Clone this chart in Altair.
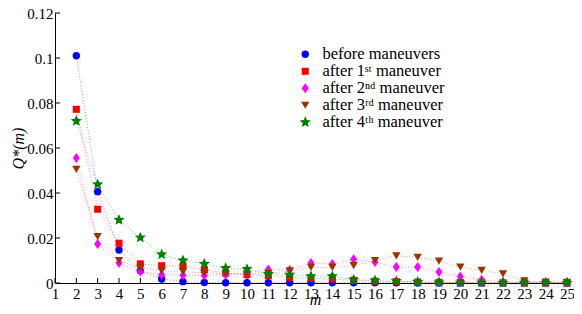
import altair as alt
import pandas as pd

m_values = list(range(2, 26))
before = [0.101, 0.0406, 0.0147, 0.0054, 0.0018, 0.0006, 0.0002, 0.0001, 0.0001, 0.0001, 0.0001, 0.0001,
          0.0001, 0.0001, 0.0001, 0.0001, 0.0, 0.0, 0.0, 0.0, 0.0, 0.0, 0.0, 0.0]
first = [0.0772, 0.0328, 0.0177, 0.0085, 0.0077, 0.0075, 0.0059, 0.0044, 0.0037, 0.0032, 0.0025, 0.0020,
         0.0018, 0.0012, 0.0008, 0.0006, 0.0004, 0.0003, 0.0002, 0.0002, 0.0001, 0.0001, 0.0001, 0.0001]
second = [0.0556, 0.0173, 0.0089, 0.0051, 0.0037, 0.0035, 0.0033, 0.0037, 0.0045, 0.0060, 0.0058, 0.0089,
          0.0085, 0.0106, 0.0093, 0.0071, 0.0071, 0.0049, 0.0029, 0.0015, 0.0005, 0.0002, 0.0001, 0.0001]
third = [0.0505, 0.0206, 0.0100, 0.0066, 0.0054, 0.0051, 0.0044, 0.0040, 0.0040, 0.0042, 0.0054, 0.0069,
         0.0069, 0.0077, 0.0100, 0.0121, 0.0114, 0.0097, 0.0071, 0.0056, 0.0041, 0.0010, 0.0004, 0.0003]
fourth = [0.0720, 0.0438, 0.0280, 0.0202, 0.0127, 0.0100, 0.0085, 0.0066, 0.0062, 0.0040, 0.0037, 0.0030,
          0.0030, 0.0015, 0.0011, 0.0008, 0.0005, 0.0003, 0.0002, 0.0002, 0.0001, 0.0001, 0.0001, 0.0001]

series_names = ["before maneuvers", "after 1ˢᵗ maneuver", "after 2ⁿᵈ maneuver",
                "after 3ʳᵈ maneuver", "after 4ᵗʰ maneuver"]
series_values = [before, first, second, third, fourth]
colors = ["#0000ff", "#ff0000", "#ff00ff", "#993300", "#008000"]
star = ("M0,-1 L0.265,-0.364 L0.951,-0.309 L0.428,0.139 L0.588,0.809 L0,0.45 "
        "L-0.588,0.809 L-0.428,0.139 L-0.951,-0.309 L-0.265,-0.364 Z")
diamond = "M0,-1 L0.7,0 L0,1 L-0.7,0 Z"
shapes = ["circle", "square", diamond, "triangle-down", star]
sizes = [55, 50, 100, 70, 140]

x_ticks = list(range(1, 26))
y_ticks = [0, 0.02, 0.04, 0.06, 0.08, 0.1, 0.12]

rows = []
for i, (name, vals) in enumerate(zip(series_names, series_values)):
    for m, v in zip(m_values, vals):
        rows.append({"series": name, "idx": i, "m": m, "Q": v})
df = pd.DataFrame(rows)

FONT = "Liberation Serif"

x_enc = alt.X("m:Q", scale=alt.Scale(domain=[1, 25], nice=False, zero=False),
              axis=alt.Axis(values=x_ticks, title="m",
                            titleBaseline="alphabetic", titleY=21, titleX=260,
                            titleAlign="center",
                            labelBaseline="alphabetic", labelPadding=15))
y_enc = alt.Y("Q:Q", scale=alt.Scale(domain=[0, 0.12], nice=False),
              axis=alt.Axis(values=y_ticks, format=".2~f", title="Q*(m)",
                            titleX=-37, titleY=135, titleAngle=-90, titleAlign="center",
                            titleBaseline="middle", labelPadding=2))

line_layers = []
for name, c in zip(series_names, colors):
    line_layers.append(
        alt.Chart(df).transform_filter(alt.datum.series == name)
        .mark_line(strokeDash=[1, 2], strokeWidth=1, opacity=0.45, color=c)
        .encode(x=x_enc, y=y_enc)
    )

points = alt.Chart(df).mark_point(filled=True, opacity=1).encode(
    x=x_enc, y=y_enc,
    color=alt.Color("series:N", scale=alt.Scale(domain=series_names, range=colors),
                    legend=alt.Legend(title=None, orient="none", legendX=242, legendY=33)),
    shape=alt.Shape("series:N", scale=alt.Scale(domain=series_names, range=shapes)),
    size=alt.Size("series:N", scale=alt.Scale(type="ordinal", domain=series_names, range=sizes)),
    order=alt.Order("idx:Q"),
)

xt = pd.DataFrame({"m": x_ticks})
yt = pd.DataFrame({"Q": y_ticks})
xticks = alt.Chart(xt).mark_rule(color="black", strokeWidth=1).encode(
    x=x_enc, y=alt.value(270), y2=alt.value(265))
yticks = alt.Chart(yt).mark_rule(color="black", strokeWidth=1).encode(
    y=y_enc, x=alt.value(0), x2=alt.value(5))

chart = alt.layer(*line_layers, xticks, yticks, points).properties(
    width=512, height=270,
    autosize=alt.AutoSizeParams(type="none"),
    padding={"left": 47, "top": 5, "right": 7, "bottom": 23},
).configure(background="white", font=FONT).configure_view(stroke=None).configure_axis(
    labelFont=FONT, labelFontSize=15, labelColor="black",
    titleFont=FONT, titleFontSize=16, titleFontStyle="italic", titleFontWeight="normal",
    titleColor="black", domainColor="black", domainWidth=1, ticks=False, tickSize=0,
    grid=False, labelFlush=False, labelOverlap=False,
).configure_legend(
    labelFont=FONT, labelFontSize=16.5, labelColor="black", labelOffset=9,
    rowPadding=0, padding=0, labelLimit=300,
)

chart.save("out.html", embed_options={"renderer": "svg", "actions": False})
